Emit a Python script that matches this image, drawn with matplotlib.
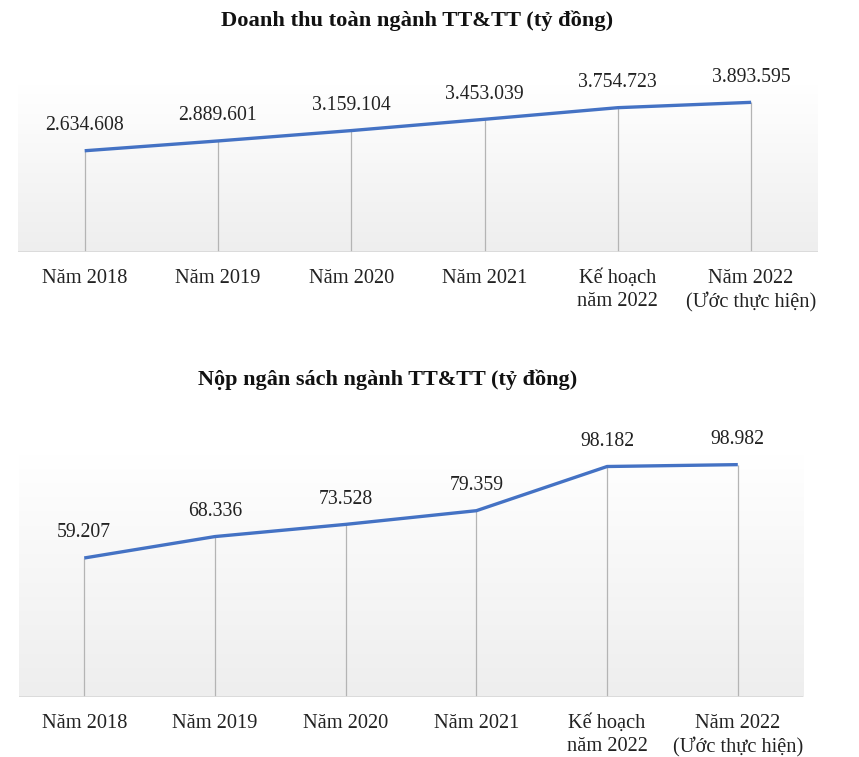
import numpy as np
import matplotlib
matplotlib.use("Agg")
import matplotlib.pyplot as plt
from matplotlib.colors import LinearSegmentedColormap

plt.rcParams["font.family"] = ["Liberation Serif", "DejaVu Serif"]

# Data
categories = ["Năm 2018", "Năm 2019", "Năm 2020", "Năm 2021",
              "Kế hoạch\nnăm 2022", "Năm 2022\n(Ước thực hiện)"]
doanh_thu = [2634608, 2889601, 3159104, 3453039, 3754723, 3893595]
nop_ngan_sach = [59207, 68336, 73528, 79359, 98182, 98982]

title_top = "Doanh thu toàn ngành TT&TT (tỷ đồng)"
title_bottom = "Nộp ngân sách ngành TT&TT (tỷ đồng)"

LINE_COLOR = "#4472C4"
DROP_COLOR = "#b4b4b4"
BASE_COLOR = "#d9d9d9"

grad_cmap = LinearSegmentedColormap.from_list("bg", ["#ffffff", "#eeeeee"])


def vn_format(v):
    return f"{v:,}".replace(",", ".")


def draw_panel(ax, values, ymax):
    x = np.arange(len(values))
    ax.set_xlim(-0.5, len(values) - 0.5)
    ax.set_ylim(0, ymax)

    # gradient plot area (white at top -> light gray at bottom)
    grad = np.linspace(0, 1, 256).reshape(-1, 1)
    ax.imshow(grad, cmap=grad_cmap, aspect="auto", origin="upper",
              extent=(-0.5, len(values) - 0.5, 0, ymax), zorder=0)

    ax.vlines(x, 0, values, color=DROP_COLOR, lw=0.9, zorder=1)
    ax.plot(x, values, color=LINE_COLOR, lw=2.4, solid_capstyle="butt", zorder=3)
    ax.axhline(0, color=BASE_COLOR, lw=2, zorder=2)

    for xi, v in zip(x, values):
        ax.annotate(vn_format(v), (xi, v), xytext=(0, 18), textcoords="offset points",
                    ha="center", va="center", fontsize=14.2, color="#222222",
                    annotation_clip=False)

    ax.set_xticks(x)
    ax.set_xticklabels(categories, fontsize=14.7, color="#222222", linespacing=1.3)
    ax.tick_params(axis="x", length=0, pad=12)
    ax.set_yticks([])
    for s in ax.spines.values():
        s.set_visible(False)


fig = plt.figure(figsize=(8.59, 7.57), dpi=100)

ax1 = fig.add_axes([0.021, 0.667, 0.931, 0.221])
draw_panel(ax1, doanh_thu, 4.35e6)
fig.text(0.486, 0.973, title_top, ha="center", va="center",
         fontsize=16.2, fontweight="bold", color="#111111")

ax2 = fig.add_axes([0.022, 0.0793, 0.913, 0.320])
draw_panel(ax2, nop_ngan_sach, 103200)
fig.text(0.451, 0.499, title_bottom, ha="center", va="center",
         fontsize=16, fontweight="bold", color="#111111")

fig.savefig("out.png", dpi=100)
